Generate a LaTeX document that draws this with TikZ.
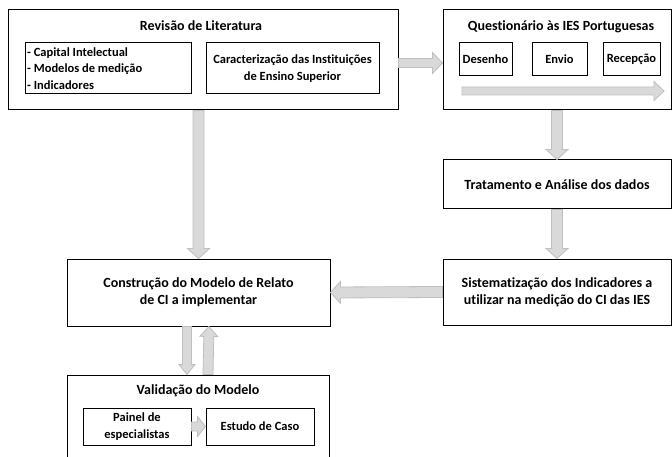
\documentclass[tikz,border=0pt]{standalone}
\usepackage{fontspec}
\setmainfont{Carlito}[Ligatures=NoCommon]
\usetikzlibrary{calc}
\definecolor{arrfill}{HTML}{D9D9D9}
\definecolor{arredge}{HTML}{BFBFBF}
\tikzset{
  txt/.style={font=\bfseries\fontsize{14}{17}\selectfont, inner sep=0pt, align=center},
  small/.style={font=\bfseries\fontsize{12.5}{16.5}\selectfont},
  box/.style={txt, draw=black, line width=1pt, fill=white},
  blk/.style={fill=arrfill, draw=arredge, line width=0.8pt, line join=miter},
}
% #1 from, #2 to (tip), #3 half shaft width, #4 half head width, #5 head length
\newcommand{\blockarrow}[5]{%
  \draw[blk] let \p1=(#1), \p2=(#2), \n1={atan2(\y2-\y1,\x2-\x1)} in
    ($(\p1)+(\n1+90:#3)$) --
    ($(\p2)+(\n1+180:#5)+(\n1+90:#3)$) --
    ($(\p2)+(\n1+180:#5)+(\n1+90:#4)$) --
    (\p2) --
    ($(\p2)+(\n1+180:#5)+(\n1-90:#4)$) --
    ($(\p2)+(\n1+180:#5)+(\n1-90:#3)$) --
    ($(\p1)+(\n1-90:#3)$) -- cycle;}
\begin{document}
\begin{tikzpicture}[x=1pt, y=-1pt]
\useasboundingbox (0,0) rectangle (672,457);
\clip (0,0) rectangle (672,457);
\fill[white] (0,0) rectangle (672,457);

% Revisão de Literatura
\node[box, minimum width=390pt, minimum height=100pt] (rev) at (203,60) {};
\node[txt] (revt) at (201,26) {Revisão de Literatura};
\node[box, minimum width=166pt, minimum height=51pt] (ci) at (108,68.5) {};
\node[txt, small, align=left, anchor=west] (cit) at (27,68.5) {- Capital Intelectual\\- Modelos de medição\\- Indicadores};
\node[box, small, minimum width=173pt, minimum height=51pt] (car) at (292.5,68.5) {Caracterização das Instituições\\de Ensino Superior};

% Questionário
\node[box, minimum width=228pt, minimum height=100pt] (quest) at (557,60) {};
\node[txt] (questt) at (561,27) {Questionário às IES Portuguesas};
\node[box, small, minimum width=53pt, minimum height=33pt] (des) at (485.5,59.5) {Desenho};
\node[box, small, minimum width=55pt, minimum height=33pt] (env) at (559.5,59.5) {Envio};
\node[box, small, minimum width=57pt, minimum height=33pt] (rec) at (631.5,59.5) {Recepção};
\coordinate (qa) at (462,91);
\coordinate (qb) at (664,91);

% Tratamento
\node[box, minimum width=228pt, minimum height=49pt] (trat) at (557,184.5) {Tratamento e Análise dos dados};
% Sistematização
\node[box, minimum width=228pt, minimum height=66pt] (sist) at (557,292) {Sistematização dos Indicadores a\\utilizar na medição do CI das IES};
% Construção
\node[box, minimum width=263pt, minimum height=67pt] (cons) at (198.5,292.5) {Construção do Modelo de Relato\\de CI a implementar};
% Validação
\node[box, minimum width=262pt, minimum height=95pt] (val) at (198,422.5) {};
\node[txt] (valt) at (198,391) {Validação do Modelo};
\node[box, small, minimum width=108pt, minimum height=37pt] (pai) at (137,426.5) {Painel de\\especialistas};
\node[box, small, minimum width=108pt, minimum height=37pt] (est) at (260,426.5) {Estudo de Caso};

% Arrows
\blockarrow{$(rev.east)+(0,3)$}{$(quest.west)+(0,3)$}{4.5pt}{10.5pt}{10pt}
\blockarrow{qa}{qb}{4pt}{9.5pt}{10pt}
\blockarrow{quest.south}{trat.north}{5.5pt}{11pt}{10pt}
\blockarrow{trat.south}{sist.north}{5.5pt}{11pt}{10pt}
\blockarrow{cons.north |- rev.south}{cons.north}{5.5pt}{11pt}{10pt}
\blockarrow{sist.west}{cons.east}{5.5pt}{11pt}{10pt}
\blockarrow{$(cons.south)+(-11.5,0)$}{$(val.north)+(-11,0)$}{4.5pt}{8pt}{10pt}
\blockarrow{$(val.north)+(10,0)$}{$(cons.south)+(10.5,0)$}{5pt}{9pt}{10pt}
\blockarrow{pai.east}{est.west}{4.5pt}{10pt}{8pt}
\end{tikzpicture}
\end{document}
